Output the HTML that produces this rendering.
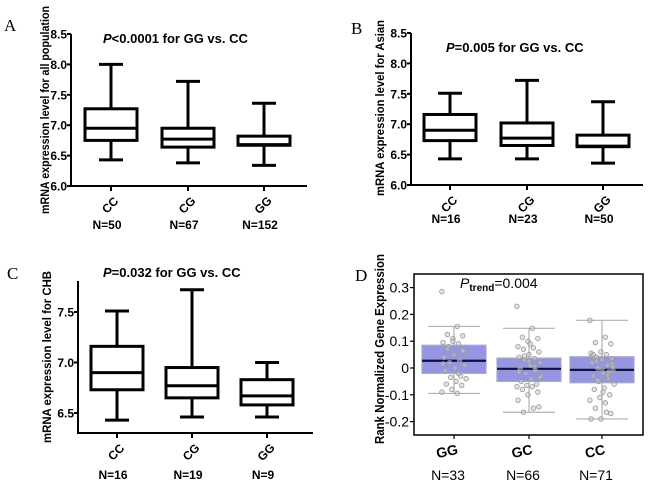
<!DOCTYPE html>
<html><head><meta charset="utf-8">
<style>
html,body{margin:0;padding:0;background:#fff;}
svg{display:block;font-family:"Liberation Sans",Arial,sans-serif;}
.tk{font-size:12px;font-weight:bold;fill:#000;}
.lt{font-family:"Liberation Serif",serif;font-size:17px;fill:#000;}
</style></head>
<body>
<svg id="fig" width="650" height="486" viewBox="0 0 650 486" xmlns="http://www.w3.org/2000/svg"></svg>
<script>
// Panel A data
const aCats = ["CC","CG","GG"];
const aN = ["N=50","N=67","N=152"];
const aMin = [6.43,6.38,6.34];
const aQ1 = [6.75,6.64,6.67];
const aMed = [6.95,6.77,6.68];
const aQ3 = [7.27,6.95,6.82];
const aMax = [8.0,7.72,7.36];
const aTicks = [6.0,6.5,7.0,7.5,8.0,8.5];
// Panel B data
const bCats = ["CC","CG","GG"];
const bN = ["N=16","N=23","N=50"];
const bMin = [6.43,6.43,6.36];
const bQ1 = [6.73,6.65,6.63];
const bMed = [6.90,6.77,6.64];
const bQ3 = [7.16,7.02,6.82];
const bMax = [7.51,7.72,7.37];
const bTicks = [6.0,6.5,7.0,7.5,8.0,8.5];
// Panel C data
const cCats = ["CC","CG","GG"];
const cN = ["N=16","N=19","N=9"];
const cMin = [6.43,6.46,6.46];
const cQ1 = [6.73,6.65,6.58];
const cMed = [6.90,6.77,6.67];
const cQ3 = [7.16,6.95,6.83];
const cMax = [7.51,7.72,7.00];
const cTicks = [6.5,7.0,7.5];
// Panel D data
const dCats = ["GG","GC","CC"];
const dN = ["N=33","N=66","N=71"];
const dMin = [-0.095,-0.165,-0.19];
const dQ1 = [-0.02,-0.05,-0.055];
const dMed = [0.027,-0.003,-0.007];
const dQ3 = [0.085,0.037,0.042];
const dMax = [0.155,0.148,0.178];
const dTicks = [-0.2,-0.1,0,0.1,0.2,0.3];
const dTickLabels = ["-0.2","-0.1","0","0.1","0.2","0.3"];
const dPtsGG = [0.285,0.155,0.125,0.12,0.11,0.095,0.09,0.08,0.06,0.05,0.04,0.03,0.02,0.01,0.0,-0.01,-0.03,-0.035,-0.04,-0.05,-0.06,-0.065,-0.08,-0.09,-0.095,0.07,0.065,0.1,0.015,-0.02];
const dPtsGC = [0.23,0.148,0.115,0.11,0.1,0.08,0.075,0.07,0.06,0.05,0.04,0.035,0.03,0.02,0.01,0.0,-0.01,-0.02,-0.03,-0.04,-0.05,-0.06,-0.065,-0.07,-0.07,-0.08,-0.09,-0.1,-0.12,-0.15,-0.165,-0.145,0.025,-0.015,0.005,0.045,-0.035,0.09];
const dPtsCC = [0.178,0.115,0.095,0.09,0.06,0.055,0.05,0.04,0.035,0.03,0.02,0.01,0.0,-0.01,-0.02,-0.03,-0.04,-0.05,-0.06,-0.075,-0.08,-0.1,-0.11,-0.12,-0.13,-0.15,-0.17,-0.19,-0.19,-0.165,0.025,0.015,-0.005,0.045,-0.025,-0.045,0.005,-0.09,0.05,-0.015];

const NS="http://www.w3.org/2000/svg";
const svg=document.getElementById('fig');
function mk(tag,attrs,parent){const e=document.createElementNS(NS,tag);for(const k in attrs)e.setAttribute(k,attrs[k]);(parent||svg).appendChild(e);return e;}

function blackPanel(o){
  const g=mk('g',{});
  
  
  const y=v=>o.y0+(v-o.v0)*(o.y1-o.y0)/(o.v1-o.v0);
  const ax=mk('path',{d:`M${o.ax},${o.top}V${o.bot}H${o.right}`,stroke:'#000','stroke-width':2,fill:'none'},g);
  
  
  o.ticks.forEach(t=>{
    mk('line',{x1:o.ax-4,x2:o.ax,y1:y(t),y2:y(t),stroke:'#000','stroke-width':2},g);
    const tl=mk('text',{x:o.ax-4,y:y(t)+4.5,'text-anchor':'end',class:'tk'},g);
    tl.textContent=t.toFixed(1);
    
    
  });
  o.cats.forEach((c,i)=>{
    const cx=o.cx[i],hw=26;
    mk('line',{x1:cx,x2:cx,y1:o.bot,y2:o.bot+5,stroke:'#000','stroke-width':2},g);
    const b=mk('g',{},g);
    
    
    const st={stroke:'#000','stroke-width':3,fill:'none'};
    mk('line',Object.assign({x1:cx,x2:cx,y1:y(o.max[i]),y2:y(o.q3[i])},st),b);
    mk('line',Object.assign({x1:cx,x2:cx,y1:y(o.q1[i]),y2:y(o.min[i])},st),b);
    mk('line',Object.assign({x1:cx-12,x2:cx+12,y1:y(o.max[i]),y2:y(o.max[i])},st),b);
    mk('line',Object.assign({x1:cx-12,x2:cx+12,y1:y(o.min[i]),y2:y(o.min[i])},st),b);
    mk('rect',Object.assign({x:cx-hw,y:y(o.q3[i]),width:2*hw,height:y(o.q1[i])-y(o.q3[i]),fill:'#fff'},st),b);
    mk('line',Object.assign({x1:cx-hw,x2:cx+hw,y1:y(o.med[i]),y2:y(o.med[i])},st),b);
    const cl=mk('text',{transform:`translate(${cx+2},${o.bot+22}) rotate(-45)`,'text-anchor':'middle',class:'tk'},g);
    cl.textContent=c;
    
    
    const nl=mk('text',{x:cx-4,y:o.nY,'text-anchor':'middle',class:'tk'},g);
    nl.textContent=o.n[i];
    
    
  });
  const yt=mk('text',{transform:`translate(${o.ytX},${o.ytY}) rotate(-90)`,'text-anchor':'middle',textLength:o.ytL,lengthAdjust:'spacingAndGlyphs',style:'font-size:12px;font-weight:bold'},g);
  yt.textContent=o.ytitle;
  
  
  const pt=mk('text',{x:o.pX,y:o.pY,style:'font-size:13px;font-weight:bold'},g);
  pt.innerHTML='<tspan font-style="italic">P</tspan>'+o.ptext;
  
  
  const lt=mk('text',{x:o.lX,y:o.lY,class:'lt'},g);
  lt.textContent=o.letter;
  
  
}

blackPanel({name:'panel-a',letter:'A',lX:4,lY:31,ax:71,top:34,bot:186,right:307,y0:186,y1:34,v0:6.0,v1:8.5,
  ticks:aTicks,cats:aCats,n:aN,cx:[111,188,264],min:aMin,q1:aQ1,med:aMed,q3:aQ3,max:aMax,nY:229,
  ytitle:'mRNA expression level for all population',ytX:49,ytY:110,ytL:208,pX:103,pY:43,ptext:'&lt;0.0001 for GG vs. CC'});
blackPanel({name:'panel-b',letter:'B',lX:351,lY:34,ax:411,top:33,bot:185,right:643,y0:185,y1:33,v0:6.0,v1:8.5,
  ticks:bTicks,cats:bCats,n:bN,cx:[450,527,603],min:bMin,q1:bQ1,med:bMed,q3:bQ3,max:bMax,nY:223,
  ytitle:'mRNA expression level for Asian',ytX:384,ytY:108,ytL:176,pX:446,pY:52,ptext:'=0.005 for GG vs. CC'});
blackPanel({name:'panel-c',letter:'C',lX:7,lY:279,ax:78,top:281,bot:433,right:313,y0:413,y1:312,v0:6.5,v1:7.5,
  ticks:cTicks,cats:cCats,n:cN,cx:[117,192,267],min:cMin,q1:cQ1,med:cMed,q3:cQ3,max:cMax,nY:479,
  ytitle:'mRNA expression level for CHB',ytX:51,ytY:357,ytL:172,pX:103,pY:277,ptext:'=0.032  for GG vs. CC'});

// Panel D
(function(){
  const g=mk('g',{});
  
  
  const L=414,R=643,T=274,B=435;
  const y=v=>368+(v-0)*(-268);
  const fr=mk('rect',{x:L,y:T,width:R-L,height:B-T,fill:'none',stroke:'#000','stroke-width':1.5},g);
  
  
  dTicks.forEach((t,i)=>{
    mk('line',{x1:L-4,x2:L,y1:y(t),y2:y(t),stroke:'#000','stroke-width':1.2},g);
    const tl=mk('text',{x:L-5,y:y(t)+5,'text-anchor':'end',style:'font-size:14px;fill:#000'},g);
    tl.textContent=dTickLabels[i];
    
    
  });
  const cxs=[454,529,602];
  const pts=[dPtsGG,dPtsGC,dPtsCC];
  dCats.forEach((c,i)=>{
    const cx=cxs[i],hw=32;
    mk('line',{x1:cx,x2:cx,y1:B,y2:B+4,stroke:'#000','stroke-width':1.2},g);
    const b=mk('g',{},g);
    
    
    const ws={stroke:'#b0b0b0','stroke-width':1.2};
    mk('line',Object.assign({x1:cx,x2:cx,y1:y(dMax[i]),y2:y(dMin[i])},ws),b);
    mk('line',Object.assign({x1:cx-26,x2:cx+26,y1:y(dMax[i]),y2:y(dMax[i])},ws),b);
    mk('line',Object.assign({x1:cx-26,x2:cx+26,y1:y(dMin[i]),y2:y(dMin[i])},ws),b);
    mk('rect',{x:cx-hw,y:y(dQ3[i]),width:2*hw,height:y(dQ1[i])-y(dQ3[i]),fill:'#9595e2',stroke:'#a8a8c8','stroke-width':1.2},b);
    mk('line',{x1:cx-hw,x2:cx+hw,y1:y(dMed[i]),y2:y(dMed[i]),stroke:'#101040','stroke-width':2.2},b);
    pts[i].forEach((v,k)=>{
      const jit=((k*37)%23-11)*1.1;
      const p=mk('circle',{cx:cx+jit,cy:y(v),r:2.3,fill:'rgba(200,200,200,0.5)',stroke:'#999','stroke-width':0.8},b);
      
      
    });
    const cl=mk('text',{transform:`translate(${cx-6},${B+21}) rotate(-12)`,'text-anchor':'middle',style:'font-size:14px;font-weight:bold;fill:#000'},g);
    cl.textContent=c;
    
    
    const nl=mk('text',{x:cx-6,y:480,'text-anchor':'middle',style:'font-size:14px;fill:#000'},g);
    nl.textContent=dN[i];
    
    
  });
  const yt=mk('text',{transform:'translate(384,349) rotate(-90)','text-anchor':'middle',textLength:190,lengthAdjust:'spacingAndGlyphs',style:'font-size:13px;font-weight:bold'},g);
  yt.textContent='Rank Normalized Gene Expression';
  
  
  const pt=mk('text',{x:460,y:288,style:'font-size:14px'},g);
  pt.innerHTML='<tspan font-style="italic">P</tspan><tspan font-size="10" font-weight="bold" dy="3">trend</tspan><tspan dy="-3">=0.004</tspan>';
  
  
  const lt=mk('text',{x:355,y:281,class:'lt'},g);
  lt.textContent='D';
  
  
})();
</script>
</body></html>
